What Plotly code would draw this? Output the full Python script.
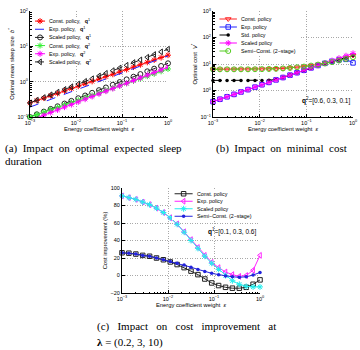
import plotly.graph_objects as go

# ---------------- data ----------------
eps = [0.001, 0.00141, 0.002, 0.00282, 0.00398, 0.00562, 0.00794, 0.0112, 0.0158, 0.0224,
       0.0316, 0.0447, 0.0631, 0.0891, 0.126, 0.178, 0.251, 0.355, 0.501, 0.708, 1.0]

# (a) optimal mean sleep size
a_const_q1 = [0.251, 0.293, 0.343, 0.400, 0.468, 0.546, 0.638, 0.746, 0.871, 1.02, 1.19,
              1.39, 1.62, 1.89, 2.21, 2.59, 3.02, 3.53, 4.12, 4.81, 5.62]
a_exp_q1 = [0.191, 0.225, 0.266, 0.314, 0.372, 0.439, 0.519, 0.613, 0.724, 0.856, 1.01,
            1.20, 1.41, 1.67, 1.97, 2.33, 2.75, 3.26, 3.85, 4.54, 5.37]
a_scaled_q1 = [0.100, 0.119, 0.142, 0.169, 0.201, 0.240, 0.286, 0.340, 0.406, 0.483, 0.575,
               0.685, 0.817, 0.973, 1.16, 1.38, 1.64, 1.96, 2.33, 2.78, 3.31]
a_const_q2 = [0.100, 0.117, 0.137, 0.160, 0.187, 0.219, 0.256, 0.299, 0.350, 0.409, 0.479,
              0.560, 0.655, 0.766, 0.895, 1.05, 1.22, 1.43, 1.67, 1.96, 2.29]
a_exp_q2 = [0.0794, 0.0945, 0.112, 0.134, 0.159, 0.190, 0.225, 0.268, 0.319, 0.380, 0.452,
            0.538, 0.640, 0.761, 0.906, 1.08, 1.28, 1.53, 1.82, 2.16, 2.57]
a_scaled_q2 = [0.251, 0.299, 0.356, 0.425, 0.506, 0.603, 0.718, 0.855, 1.02, 1.21, 1.45,
               1.72, 2.05, 2.44, 2.91, 3.47, 4.13, 4.92, 5.86, 6.98, 8.32]

# (b) optimal cost
b_const = [6.3, 6.3, 6.3, 6.3, 6.3, 6.3, 6.35, 6.4, 6.5, 6.6, 6.8, 7.1, 7.5, 8.0, 8.7, 9.6,
           10.7, 12.1, 14.0, 16.8, 21.0]
b_exp = [0.380, 0.469, 0.578, 0.713, 0.879, 1.08, 1.34, 1.65, 2.03, 2.51, 3.09, 3.81, 4.70,
         5.79, 7.14, 8.81, 10.6, 12.6, 14.3, 15.0, 11.0]
b_std = [2.4, 2.4, 2.4, 2.4, 2.4, 2.4, 2.4, 2.4, 2.45, 2.6, 3.09, 3.81, 4.70, 5.79, 7.14,
         8.81, 10.6, 12.5, 14.6, 17.5, 21.0]
b_scaled = [0.380, 0.469, 0.578, 0.713, 0.879, 1.08, 1.34, 1.65, 2.03, 2.51, 3.09, 3.81, 4.70,
            5.79, 7.14, 8.81, 10.9, 13.4, 16.5, 20.4, 25.1]
b_semi = [6.3, 6.3, 6.3, 6.3, 6.3, 6.3, 6.35, 6.4, 6.5, 6.6, 6.8, 7.1, 7.5, 8.0, 8.7, 9.5,
          10.5, 11.8, 13.5, 15.5, 18.0]

# (c) cost improvement (%)
c_const = [26, 25.5, 24.5, 23, 22, 20, 18, 15.5, 12.5, 9, 5, 1, -4, -8.5, -11.5, -13.5,
           -14.5, -14.5, -13.5, -10, -5]
c_exp = [91, 89, 87, 84, 81, 77, 72, 66, 59, 50, 41, 32, 23, 15, 9, 4, 1, -1, 0, 6, 23]
c_scaled = [91, 89, 87, 84, 81, 77, 72, 66, 58.5, 49.5, 40, 31, 22, 14, 7, 0, -6, -10,
            -12.5, -13, -13]
c_semi = [26, 25.5, 24.5, 23, 22, 20, 18, 16, 14, 12, 9.5, 7, 4.5, 2.5, 1, -0.5, -1.5, -2,
          -1.5, 0.5, 3.5]

log_ticks = [0.001, 0.01, 0.1, 1]
log_ticktext = ["10<sup>−3</sup>", "10<sup>−2</sup>", "10<sup>−1</sup>", "10<sup>0</sup>"]
a_yticks = [0.1, 1, 10, 100]
a_yticktext = ["10<sup>−1</sup>", "10<sup>0</sup>", "10<sup>1</sup>", "10<sup>2</sup>"]
b_yticks = [0.1, 1, 10, 100, 1000]
b_yticktext = ["10<sup>−1</sup>", "10<sup>0</sup>", "10<sup>1</sup>", "10<sup>2</sup>", "10<sup>3</sup>"]
c_yticks = [-20, 0, 20, 40, 60, 80, 100]
c_yticktext = ["−20", "0", "20", "40", "60", "80", "100"]

SANS = "Liberation Sans"
SERIF = "Liberation Serif"
W, H = 360, 350

def px(x0, x1):
    return [x0 / W, x1 / W]

def py(y_top, y_bot):
    return [1 - y_bot / H, 1 - y_top / H]

fig = go.Figure()

series_a = [
    (a_const_q1, "Const. policy,", "1", "#ff0000", "solid", "asterisk-open", 5),
    (a_exp_q1, "Exp. policy,", "1", "#2222ff", "dash", None, 0),
    (a_scaled_q1, "Scaled policy,", "1", "#222222", "dash", "circle-open", 5),
    (a_const_q2, "Const. policy,", "2", "#33ee33", "solid", "asterisk-open", 5),
    (a_exp_q2, "Exp. policy,", "2", "#ff00ff", "solid", "asterisk-open", 5),
    (a_scaled_q2, "Scaled policy,", "2", "#222222", "dash", "triangle-left-open", 5),
]
series_b = [
    (b_const, "Const. policy", "#ff2222", "solid", "triangle-down-open", 5),
    (b_exp, "Exp. policy", "#2222ff", "solid", "square-open", 4.5),
    (b_std, "Std. policy", "#000000", "dash", "circle", 3.5),
    (b_scaled, "Scaled policy", "#ff00ff", "solid", "asterisk-open", 5),
    (b_semi, "Semi−Const. (2−stage)", "#55cc22", "dash", "circle-open", 5),
]
series_c = [
    (c_const, "Const. policy", "#222222", "solid", "square-open", 4.5),
    (c_exp, "Exp. policy", "#ff22ff", "solid", "triangle-left-open", 5),
    (c_scaled, "Scaled policy", "#22eeee", "solid", "asterisk-open", 5),
    (c_semi, "Semi−Const. (2−stage)", "#2222dd", "solid", "circle", 3.5),
]


def marker_dict(symbol, size, color):
    if symbol is None:
        return dict(size=0)
    if symbol.endswith("open"):
        return dict(symbol=symbol, size=size, color=color, line=dict(color=color, width=1))
    return dict(symbol=symbol, size=size, color=color, line=dict(width=0))


def add_series(y, color, dash, symbol, size, xa, ya, clip=False):
    fig.add_trace(go.Scatter(
        x=eps, y=y, mode="lines+markers" if symbol else "lines",
        line=dict(color=color, width=1, dash=dash),
        marker=marker_dict(symbol, size, color),
        xaxis=xa, yaxis=ya, showlegend=False, cliponaxis=clip, hoverinfo="skip"))


for (y, nm, q, col, dash, sym, sz) in series_a:
    add_series(y, col, dash, sym, sz, "x", "y", clip=(y is a_exp_q2))
for (y, nm, col, dash, sym, sz) in series_b:
    add_series(y, col, dash, sym, sz, "x2", "y2")
for (y, nm, col, dash, sym, sz) in series_c:
    add_series(y, col, dash, sym, sz, "x3", "y3")

# ----- custom compact legends (drawn on hidden helper axes) -----
LEG_FONT = dict(family=SANS, size=5.3, color="black")


def add_legend(k, entries, line_x, text_x):
    xa, ya = f"x{k}", f"y{k}"
    for i, (label, col, dash, sym, sz) in enumerate(entries):
        fig.add_trace(go.Scatter(x=list(line_x), y=[i, i], mode="lines",
                                 line=dict(color=col, width=1, dash=dash),
                                 xaxis=xa, yaxis=ya, showlegend=False, hoverinfo="skip",
                                 cliponaxis=False))
        if sym:
            fig.add_trace(go.Scatter(x=[(line_x[0] + line_x[1]) / 2], y=[i], mode="markers",
                                     marker=marker_dict(sym, sz, col),
                                     xaxis=xa, yaxis=ya, showlegend=False, hoverinfo="skip",
                                     cliponaxis=False))
        fig.add_annotation(x=text_x, y=i, xref=xa, yref=ya, text=label, showarrow=False,
                           xanchor="left", yanchor="middle", font=LEG_FONT)


leg_a = [(nm + "\u00a0\u00a0\u00a0<b>q</b><sup>" + q + "</sup>", col, dash, sym, sz)
         for (y, nm, q, col, dash, sym, sz) in series_a]
leg_b = [(nm, col, dash, sym, sz) for (y, nm, col, dash, sym, sz) in series_b]
leg_c = [(nm, col, dash, sym, sz) for (y, nm, col, dash, sym, sz) in series_c]

add_legend(4, leg_a, (0.03, 0.18), 0.21)
add_legend(5, leg_b, (0.03, 0.24), 0.27)
add_legend(6, leg_c, (0.03, 0.24), 0.27)

# ----- axes -----
TICK_FONT = dict(family=SANS, size=5.5, color="black")
TITLE_FONT = dict(family=SANS, size=5.8, color="black")
GRID_DASH = "1px,1.5px"

A_BOX = (30, 11, 168, 117)
B_BOX = (213, 11, 353, 117)
C_BOX = (122, 188, 260, 293)
LOG_MINOR = dict(ticks="inside", ticklen=1.5, tickcolor="black", tickwidth=0.6,
                 showgrid=False, dtick="D1")


def base_axis(**kw):
    d = dict(showline=True, linecolor="black", linewidth=1, mirror=False,
             ticks="inside", ticklen=3, tickcolor="black", tickwidth=0.8,
             showgrid=True, gridcolor="#a8a8a8", griddash=GRID_DASH, gridwidth=0.8,
             zeroline=False, tickfont=TICK_FONT, automargin=False, fixedrange=True)
    d.update(kw)
    return d


def log_x(domain, anchor, title):
    return base_axis(type="log", domain=domain, anchor=anchor, range=[-3, 0],
                     tickmode="array", tickvals=log_ticks, ticktext=log_ticktext,
                     minor=LOG_MINOR,
                     title=dict(text=title, font=TITLE_FONT, standoff=1))


dom_ax = px(A_BOX[0], A_BOX[2])
dom_bx = px(B_BOX[0], B_BOX[2])
dom_cx = px(C_BOX[0], C_BOX[2])
dom_aby = py(A_BOX[1], A_BOX[3])
dom_cy = py(C_BOX[1], C_BOX[3])

fig.update_layout(
    xaxis=log_x(dom_ax, "y", "Energy coefficient weight\u00a0\u00a0<i>ε</i>"),
    yaxis=base_axis(type="log", domain=dom_aby, anchor="x", range=[-1, 2],
                    tickmode="array", tickvals=a_yticks, ticktext=a_yticktext,
                    minor=LOG_MINOR,
                    title=dict(text="Optimal mean sleep size\u00a0\u00a0<i>b</i><sup>*</sup>",
                               font=TITLE_FONT, standoff=2)),
    xaxis2=log_x(dom_bx, "y2", "Energy coefficient weight\u00a0\u00a0<i>ε</i>"),
    yaxis2=base_axis(type="log", domain=dom_aby, anchor="x2", range=[-1, 3],
                     tickmode="array", tickvals=b_yticks, ticktext=b_yticktext,
                     minor=LOG_MINOR,
                     title=dict(text="Optimal cost\u00a0\u00a0<i>V</i><sup>*</sup>",
                                font=TITLE_FONT, standoff=2)),
    xaxis3=log_x(dom_cx, "y3", "Energy coefficient weight\u00a0\u00a0<i>ε</i>"),
    yaxis3=base_axis(domain=dom_cy, anchor="x3", range=[-20, 100],
                     tickmode="array", tickvals=c_yticks, ticktext=c_yticktext,
                     title=dict(text="Cost improvement (%)", font=TITLE_FONT, standoff=2)),
)

hidden = dict(visible=False, fixedrange=True, showgrid=False, zeroline=False,
              showticklabels=False, ticks="")
fig.update_layout(
    xaxis4=dict(hidden, domain=px(33, 100), anchor="y4", range=[0, 1]),
    yaxis4=dict(hidden, domain=py(17, 66), anchor="x4", range=[5.5, -0.5]),
    xaxis5=dict(hidden, domain=px(217, 300), anchor="y5", range=[0, 1]),
    yaxis5=dict(hidden, domain=py(15, 55), anchor="x5", range=[4.5, -0.5]),
    xaxis6=dict(hidden, domain=px(172, 258), anchor="y6", range=[0, 1]),
    yaxis6=dict(hidden, domain=py(190, 220), anchor="x6", range=[3.5, -0.5]),
)

# ----- in-plot text -----
fig.add_annotation(x=352 / W, y=1 - 100 / H, xref="paper", yref="paper", xanchor="right",
                   yanchor="middle", showarrow=False,
                   text="<b>q</b><sup>2</sup>=[0.6, 0.3, 0.1]",
                   font=dict(family=SANS, size=6.5, color="black"))
fig.add_annotation(x=258 / W, y=1 - 231 / H, xref="paper", yref="paper", xanchor="right",
                   yanchor="middle", showarrow=False,
                   text="<b>q</b><sup>1</sup>=[0.1, 0.3, 0.6]",
                   font=dict(family=SANS, size=6.5, color="black"))

# ----- captions -----
CAP_FONT = dict(family=SERIF, size=11, color="black")
sp2 = "\u00a0\u00a0"
sp3 = "\u00a0\u00a0\u00a0"
captions = [
    (3, 148, sp2.join(["(a)", "Impact", "on", "optimal", "expected", "sleep"])),
    (3, 161, "duration"),
    (214, 148, "(b)" + sp2 + "Impact" + sp2 + "on" + sp2 + "minimal" + sp2 + "cost"),
    (95, 326, sp3.join(["(c)", "Impact", "on", "cost", "improvement", "at"])),
    (95, 342, "<b>λ</b> = (0.2, 3, 10)"),
]
for (cx, cy, txt) in captions:
    fig.add_annotation(x=cx / W, y=1 - cy / H, xref="paper", yref="paper", xanchor="left",
                       yanchor="middle", showarrow=False, text=txt, font=CAP_FONT)

fig.update_layout(width=W, height=H, margin=dict(l=0, r=0, t=0, b=0),
                  paper_bgcolor="white", plot_bgcolor="white", showlegend=False)

fig.write_html("out.html", config={"displayModeBar": False})
